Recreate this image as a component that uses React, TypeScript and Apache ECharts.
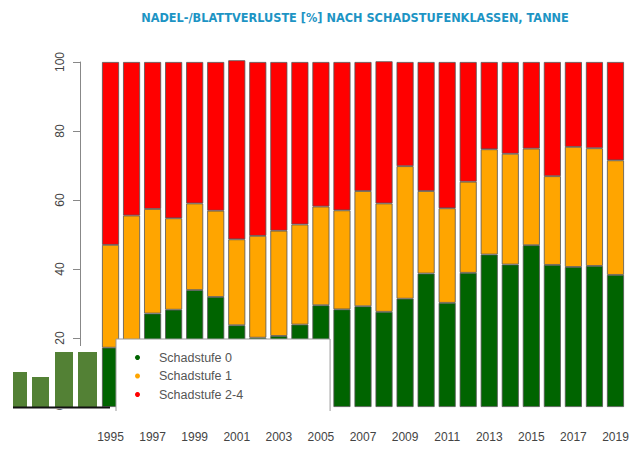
import React, { useEffect, useRef } from "react";
import * as echarts from "echarts";

const years = [
  "1995", "1996", "1997", "1998", "1999", "2000", "2001", "2002", "2003", "2004",
  "2005", "2006", "2007", "2008", "2009", "2010", "2011", "2012", "2013", "2014",
  "2015", "2016", "2017", "2018", "2019",
];
const stufe0 = [
  17.2, 16.0, 27.1, 28.2, 33.9, 31.9, 23.7, 20.1, 20.6, 23.9,
  29.5, 28.3, 29.2, 27.6, 31.4, 38.7, 30.2, 38.9, 44.2, 41.3,
  46.9, 41.2, 40.6, 40.9, 38.3,
];
const stufe1 = [
  29.8, 39.5, 30.3, 26.5, 25.1, 25.0, 24.9, 29.5, 30.5, 29.0,
  28.6, 28.7, 33.4, 31.4, 38.4, 23.9, 27.4, 26.4, 30.5, 32.1,
  28.0, 25.7, 34.8, 34.1, 33.2,
];
const stufe24 = [
  53.0, 44.5, 42.6, 45.3, 41.0, 43.1, 51.9, 50.4, 48.9, 47.1,
  41.9, 43.0, 37.4, 41.2, 30.2, 37.4, 42.4, 34.7, 25.3, 26.6,
  25.1, 33.1, 24.6, 25.0, 28.5,
];
const seriesNames = ["Schadstufe 0", "Schadstufe 1", "Schadstufe 2-4"];
const seriesColors = ["#006400", "#FFA500", "#FF0000"];
const logoBars = [
  { x: 13, w: 14, top: 372 },
  { x: 32, w: 17, top: 377 },
  { x: 55, w: 18, top: 352 },
  { x: 78, w: 19, top: 352 },
];

export default function App() {
  const ref = useRef<HTMLDivElement>(null);
  useEffect(() => {
    if (!ref.current) return;
    const chart = echarts.init(ref.current, null, { renderer: "svg" });
    const dataSets = [stufe0, stufe1, stufe24];
    chart.setOption({
      animation: false,
      backgroundColor: "#ffffff",
      title: {
        text: "NADEL-/BLATTVERLUSTE [%] NACH SCHADSTUFENKLASSEN, TANNE",
        left: 350,
        textAlign: "center",
        top: 6,
        textStyle: {
          fontFamily: "DejaVu Sans Condensed",
          fontWeight: "bold",
          fontSize: 12.6,
          color: "#1d94c4",
        },
      },
      legend: {
        orient: "vertical",
        left: 116,
        top: 339,
        padding: [12, 87, 14, 19],
        itemGap: 5.5,
        itemWidth: 5,
        itemHeight: 5,
        icon: "circle",
        itemStyle: { borderWidth: 0 },
        backgroundColor: "#ffffff",
        borderColor: "#999999",
        borderWidth: 1,
        borderRadius: 0,
        textStyle: {
          fontFamily: "Liberation Sans",
          fontSize: 12.5,
          color: "#555555",
          padding: [0, 0, 0, 14],
        },
        data: seriesNames,
      },
      grid: { left: 100, right: 14, top: 62, bottom: 46 },
      xAxis: {
        type: "category",
        data: years,
        axisLine: { show: false },
        axisTick: { show: false },
        axisLabel: {
          interval: 1,
          margin: 24,
          fontFamily: "Liberation Sans",
          fontSize: 12,
          color: "#444444",
        },
      },
      yAxis: {
        type: "value",
        min: 0,
        max: 100,
        interval: 20,
        offset: 20,
        splitLine: { show: false },
        axisLine: { show: true, lineStyle: { color: "#888888", width: 1 } },
        axisTick: { show: true, length: 7, lineStyle: { color: "#888888" } },
        axisLabel: {
          rotate: 90,
          margin: 14,
          fontFamily: "Liberation Sans",
          fontSize: 12,
          color: "#444444",
        },
      },
      series: dataSets.map((d, i) => ({
        name: seriesNames[i],
        type: "bar",
        stack: "total",
        data: d,
        barCategoryGap: "19%",
        clip: false,
        itemStyle: {
          color: seriesColors[i],
          borderColor: "#555555",
          borderWidth: 0.8,
        },
      })),
      graphic: [
        {
          type: "rect",
          z: 100,
          shape: { x: 0, y: 346, width: 100, height: 63 },
          style: { fill: "#ffffff" },
        },
        ...logoBars.map((b) => ({
          type: "rect",
          z: 101,
          shape: { x: b.x, y: b.top, width: b.w, height: 407 - b.top },
          style: { fill: "#538135" },
        })),
        {
          type: "rect",
          z: 101,
          shape: { x: 13, y: 406.5, width: 97, height: 2 },
          style: { fill: "#111111" },
        },
        {
          type: "rect",
          z: 100,
          shape: { x: 112, y: 411, width: 225, height: 12 },
          style: { fill: "#ffffff" },
        },
      ],
    });
    return () => chart.dispose();
  }, []);
  return <div ref={ref} style={{ width: 640, height: 453, margin: -8 }} />;
}
